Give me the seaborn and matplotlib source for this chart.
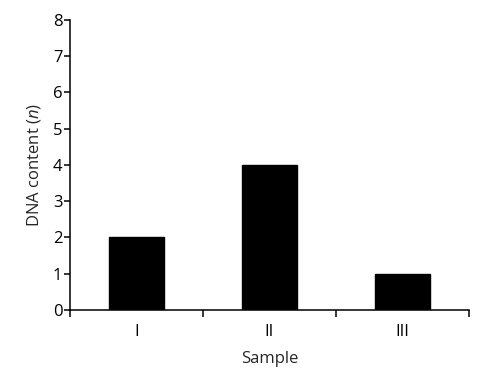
import matplotlib
matplotlib.use("Agg")
import matplotlib.pyplot as plt
import seaborn as sns
import pandas as pd

samples = ["I", "II", "III"]
dna_content = [2, 4, 1]
y_ticks = [0, 1, 2, 3, 4, 5, 6, 7, 8]

sns.set_style("ticks")
plt.rcParams['font.family'] = ['Open Sans', 'DejaVu Sans']
plt.rcParams['mathtext.fontset'] = 'custom'
plt.rcParams['mathtext.it'] = 'Open Sans:italic'
plt.rcParams['mathtext.rm'] = 'Open Sans'

df = pd.DataFrame({"Sample": samples, "DNA": dna_content})

fig = plt.figure(figsize=(4.79, 3.77), dpi=100)
ax = fig.add_axes([0.146, 0.178, 0.833, 0.769])
sns.barplot(data=df, x="Sample", y="DNA", color="black", width=0.41,
            saturation=1, ax=ax, edgecolor="black")

ax.set_xlim(-0.5, 2.5)
ax.set_ylim(0, 8)
ax.set_yticks(y_ticks)
ax.set_xticks([-0.5, 0.5, 1.5, 2.5], minor=True)
ax.tick_params(axis="x", which="major", length=0, pad=10, labelsize=12, colors="black")
ax.tick_params(axis="x", which="minor", length=5, width=1.1, direction="out", color="black")
ax.tick_params(axis="y", length=4, width=1.1, direction="out", labelsize=12, pad=1.5, colors="black")
sns.despine(ax=ax)
for s in ["left", "bottom"]:
    ax.spines[s].set_linewidth(1.1)
    ax.spines[s].set_color("black")

ax.set_xlabel("Sample", fontsize=12, labelpad=8)
ax.set_ylabel("DNA content ($\\mathit{n}$)", fontsize=12, labelpad=7)

fig.savefig("out.png", dpi=100)
